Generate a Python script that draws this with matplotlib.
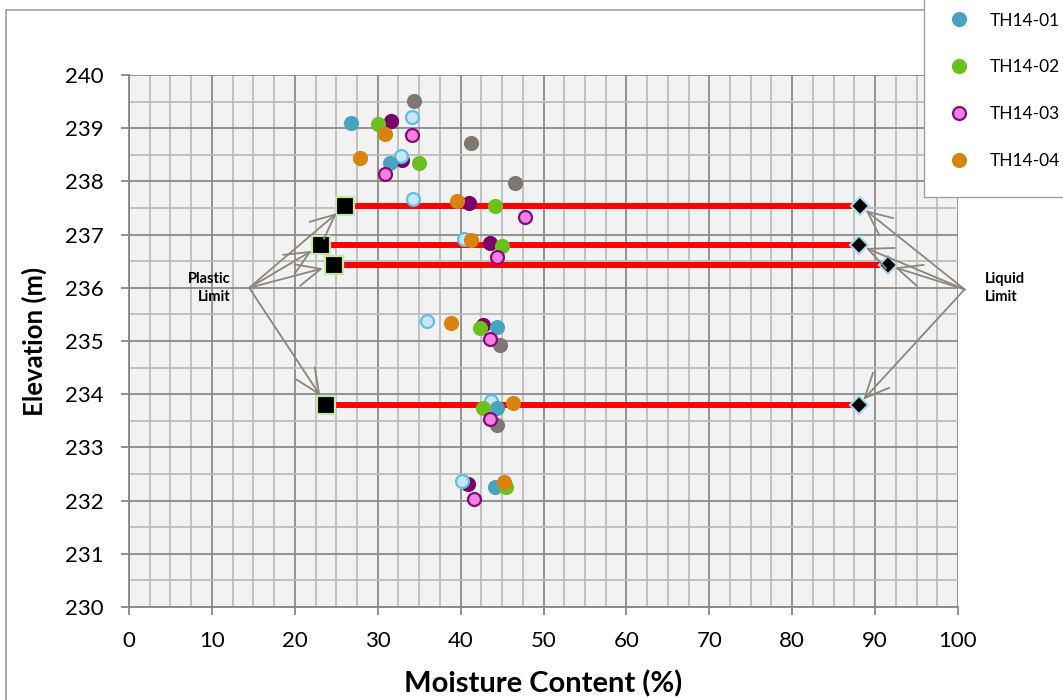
"""Moisture content vs elevation with Atterberg limits (TH14 boreholes)."""
import matplotlib
matplotlib.use("Agg")
import matplotlib.pyplot as plt
from matplotlib.lines import Line2D
from matplotlib.patches import Rectangle
from matplotlib.ticker import MultipleLocator

plt.rcParams["font.family"] = ["Lato", "DejaVu Sans"]

# moisture content (%) / elevation (m) per borehole
th01_mc = [26.8, 31.5, 44.4, 44.4, 44.1]
th01_el = [239.09, 238.35, 235.26, 233.75, 232.26]
th02_mc = [30.0, 35.0, 44.2, 45.0, 42.3, 42.7, 45.5]
th02_el = [239.08, 238.34, 237.54, 236.79, 235.24, 233.75, 232.25]
th03_mc = [34.1, 30.9, 47.8, 44.4, 43.5, 43.6, 41.6]
th03_el = [238.87, 238.13, 237.34, 236.58, 235.04, 233.54, 232.03]
th04_mc = [30.9, 27.9, 39.6, 41.3, 38.8, 46.3, 45.2]
th04_el = [238.89, 238.44, 237.64, 236.89, 235.34, 233.84, 232.35]
# extra series not shown in the visible part of the legend
gray_mc = [34.4, 41.3, 46.6, 44.8, 44.4]
gray_el = [239.52, 238.72, 237.97, 234.92, 233.42]
purple_mc = [31.6, 32.9, 41.0, 43.5, 42.7, 40.9]
purple_el = [239.14, 238.40, 237.60, 236.85, 235.31, 232.31]
ltblue_mc = [34.1, 32.8, 34.2, 40.4, 35.9, 43.7, 40.2]
ltblue_el = [239.21, 238.47, 237.67, 236.92, 235.38, 233.88, 232.37]

# Atterberg limits
limit_el = [237.54, 236.80, 236.42, 233.80]
plastic_limit = [26.1, 23.2, 24.7, 23.8]
liquid_limit = [88.2, 88.1, 91.6, 88.0]

fig = plt.figure(figsize=(10.63, 7.0), dpi=100)
ax = fig.add_axes([129 / 1063, 1 - 607 / 700, (958 - 129) / 1063, (607 - 75) / 700])
ax.set_facecolor("#f2f2f2")

# outer chart frame
fig.add_artist(Rectangle((6 / 1063, -0.05), 1.1, 0.05 + 1 - 10 / 700,
                         transform=fig.transFigure, fill=False,
                         edgecolor="#a6a6a6", linewidth=1.3))

ms = 9.3
series = [
    (gray_mc, gray_el, "#7f7772", "#7f7772", None),
    (purple_mc, purple_el, "#7d006a", "#7d006a", None),
    (ltblue_mc, ltblue_el, "#c6e7f3", "#5dbfe6", None),
    (th01_mc, th01_el, "#4aa3be", "#4aa3be", "TH14-01"),
    (th02_mc, th02_el, "#6cbf1c", "#6cbf1c", "TH14-02"),
    (th03_mc, th03_el, "#f57fe3", "#860a7c", "TH14-03"),
    (th04_mc, th04_el, "#d8830f", "#d8830f", "TH14-04"),
]
handles = []
for mc, el, fc, ec, label in series:
    ax.plot(mc, el, "o", ms=ms, mfc=fc, mec=ec, mew=1.6, zorder=4)
    if label:
        handles.append(Line2D([], [], ls="none", marker="o", ms=ms, mfc=fc,
                              mec=ec, mew=1.6, label=label))

for el, pl, ll in zip(limit_el, plastic_limit, liquid_limit):
    ax.plot([pl, ll], [el, el], color="#ff0000", lw=4.3, zorder=3,
            solid_capstyle="butt")
ax.plot(plastic_limit, limit_el, "s", ms=13, mfc="black", mec="#c4e8a8",
        mew=1.6, zorder=5)
ax.plot(liquid_limit, limit_el, "D", ms=9.5, mfc="black", mec="#a9d9ec",
        mew=1.5, zorder=5)

arrow = dict(arrowstyle="->,head_length=1.1,head_width=0.5", color="#8e857c",
             lw=1.3, shrinkA=0, mutation_scale=16)
for el, pl in zip(limit_el, plastic_limit):
    ax.annotate("", xy=(pl, el), xytext=(14.5, 236.0),
                arrowprops=dict(arrow, shrinkB=8), zorder=6)
for el, ll in zip(limit_el, liquid_limit):
    ax.annotate("", xy=(ll, el), xytext=(100.8, 235.97),
                arrowprops=dict(arrow, shrinkB=5),
                annotation_clip=False, zorder=6)
ax.text(12.2, 236.0, "Plastic\nLimit", ha="right", va="center",
        fontsize=10.5, fontweight="bold", linespacing=1.4)
ax.text(103.3, 236.0, "Liquid\nLimit", ha="left", va="center",
        fontsize=10.5, fontweight="bold", linespacing=1.4, clip_on=False)

ax.set_xlim(0, 100)
ax.set_ylim(230, 240)
ax.xaxis.set_major_locator(MultipleLocator(10))
ax.xaxis.set_minor_locator(MultipleLocator(2.5))
ax.yaxis.set_major_locator(MultipleLocator(1))
ax.yaxis.set_minor_locator(MultipleLocator(0.5))
ax.grid(which="major", color="#8a8a8a", lw=1.3, zorder=1)
ax.grid(which="minor", color="#bcbcbc", lw=1.3, zorder=1)
ax.set_axisbelow(True)
for s in ["top", "right"]:
    ax.spines[s].set_visible(False)
for s in ["left", "bottom"]:
    ax.spines[s].set_color("#868686")
    ax.spines[s].set_linewidth(1.3)
ax.tick_params(which="major", direction="out", length=6, width=1.3,
               color="#868686", labelsize=16)
ax.tick_params(axis="x", which="major", pad=11)
ax.tick_params(axis="y", which="major", pad=12)
ax.tick_params(which="minor", length=0)

ax.set_xlabel("Moisture Content (%)", fontsize=21, fontweight="bold",
              labelpad=14)
ax.set_ylabel("Elevation (m)", fontsize=18.5, fontweight="bold", labelpad=13)

fig.legend(handles=handles, loc="lower left",
           bbox_to_anchor=(924 / 1063, 1 - 197 / 700), borderaxespad=0,
           frameon=True, fancybox=False, edgecolor="#a0a0a0", framealpha=1,
           fontsize=12.5, labelspacing=1.78, borderpad=1.6,
           handletextpad=1.37, handlelength=0.83)

fig.savefig("out.png", dpi=100)
